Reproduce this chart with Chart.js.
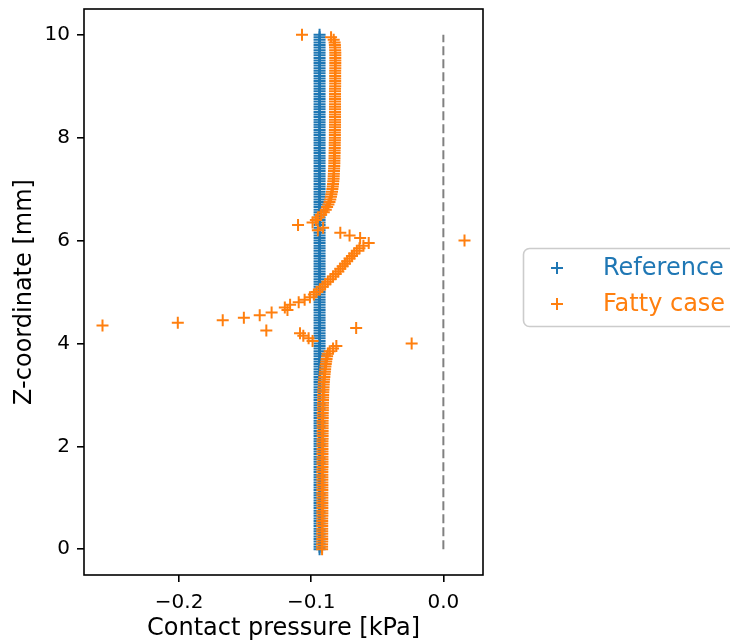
<!DOCTYPE html>
<html>
<head>
<meta charset="utf-8">
<script src="https://cdn.jsdelivr.net/npm/chart.js@4"></script>
<style>
  body { margin: 0; background: #fff; }
  canvas { display: block; }
</style>
</head>
<body>
<canvas id="chart" width="730" height="643"></canvas>
<script>
// z-coordinates of the nodes [mm]
const zCoords = [
  0, 0.05, 0.1, 0.15, 0.2, 0.25, 0.3, 0.35, 0.4, 0.45,
  0.5, 0.55, 0.6, 0.65, 0.7, 0.75, 0.8, 0.85, 0.9, 0.95,
  1, 1.05, 1.1, 1.15, 1.2, 1.25, 1.3, 1.35, 1.4, 1.45,
  1.5, 1.55, 1.6, 1.65, 1.7, 1.75, 1.8, 1.85, 1.9, 1.95,
  2, 2.05, 2.1, 2.15, 2.2, 2.25, 2.3, 2.35, 2.4, 2.45,
  2.5, 2.55, 2.6, 2.65, 2.7, 2.75, 2.8, 2.85, 2.9, 2.95,
  3, 3.05, 3.1, 3.15, 3.2, 3.25, 3.3, 3.35, 3.4, 3.45,
  3.5, 3.55, 3.6, 3.65, 3.7, 3.75, 3.8, 3.85, 3.9, 3.95,
  4, 4.05, 4.1, 4.15, 4.2, 4.25, 4.3, 4.35, 4.4, 4.45,
  4.5, 4.55, 4.6, 4.65, 4.7, 4.75, 4.8, 4.85, 4.9, 4.95,
  5, 5.05, 5.1, 5.15, 5.2, 5.25, 5.3, 5.35, 5.4, 5.45,
  5.5, 5.55, 5.6, 5.65, 5.7, 5.75, 5.8, 5.85, 5.9, 5.95,
  6, 6.05, 6.1, 6.15, 6.2, 6.25, 6.3, 6.35, 6.4, 6.45,
  6.5, 6.55, 6.6, 6.65, 6.7, 6.75, 6.8, 6.85, 6.9, 6.95,
  7, 7.05, 7.1, 7.15, 7.2, 7.25, 7.3, 7.35, 7.4, 7.45,
  7.5, 7.55, 7.6, 7.65, 7.7, 7.75, 7.8, 7.85, 7.9, 7.95,
  8, 8.05, 8.1, 8.15, 8.2, 8.25, 8.3, 8.35, 8.4, 8.45,
  8.5, 8.55, 8.6, 8.65, 8.7, 8.75, 8.8, 8.85, 8.9, 8.95,
  9, 9.05, 9.1, 9.15, 9.2, 9.25, 9.3, 9.35, 9.4, 9.45,
  9.5, 9.55, 9.6, 9.65, 9.7, 9.75, 9.8, 9.85, 9.9, 9.95,
  10
];

// contact pressure, reference case [kPa]
const referencePressure = [
  -0.0937, -0.0937, -0.0937, -0.0937, -0.0937, -0.0937, -0.0937, -0.0937, -0.0937, -0.0937,
  -0.0937, -0.0937, -0.0937, -0.0937, -0.0937, -0.0937, -0.0937, -0.0937, -0.0937, -0.0937,
  -0.0937, -0.0937, -0.0937, -0.0937, -0.0937, -0.0937, -0.0937, -0.0937, -0.0937, -0.0937,
  -0.0937, -0.0937, -0.0937, -0.0937, -0.0937, -0.0937, -0.0937, -0.0937, -0.0937, -0.0937,
  -0.0937, -0.0937, -0.0937, -0.0937, -0.0937, -0.0937, -0.0937, -0.0937, -0.0937, -0.0937,
  -0.0937, -0.0937, -0.0937, -0.0937, -0.0937, -0.0937, -0.0937, -0.0937, -0.0937, -0.0937,
  -0.0937, -0.0937, -0.0937, -0.0937, -0.0937, -0.0937, -0.0937, -0.0937, -0.0937, -0.0937,
  -0.0937, -0.0937, -0.0937, -0.0937, -0.0937, -0.0937, -0.0937, -0.0937, -0.0937, -0.0937,
  -0.0937, -0.0937, -0.0937, -0.0937, -0.0937, -0.0937, -0.0937, -0.0937, -0.0937, -0.0937,
  -0.0937, -0.0937, -0.0937, -0.0937, -0.0937, -0.0937, -0.0937, -0.0937, -0.0937, -0.0937,
  -0.0937, -0.0937, -0.0937, -0.0937, -0.0937, -0.0937, -0.0937, -0.0937, -0.0937, -0.0937,
  -0.0937, -0.0937, -0.0937, -0.0937, -0.0937, -0.0937, -0.0937, -0.0937, -0.0937, -0.0937,
  -0.0937, -0.0937, -0.0937, -0.0937, -0.0937, -0.0937, -0.0937, -0.0937, -0.0937, -0.0937,
  -0.0937, -0.0937, -0.0937, -0.0937, -0.0937, -0.0937, -0.0937, -0.0937, -0.0937, -0.0937,
  -0.0937, -0.0937, -0.0937, -0.0937, -0.0937, -0.0937, -0.0937, -0.0937, -0.0937, -0.0937,
  -0.0937, -0.0937, -0.0937, -0.0937, -0.0937, -0.0937, -0.0937, -0.0937, -0.0937, -0.0937,
  -0.0937, -0.0937, -0.0937, -0.0937, -0.0937, -0.0937, -0.0937, -0.0937, -0.0937, -0.0937,
  -0.0937, -0.0937, -0.0937, -0.0937, -0.0937, -0.0937, -0.0937, -0.0937, -0.0937, -0.0937,
  -0.0937, -0.0937, -0.0937, -0.0937, -0.0937, -0.0937, -0.0937, -0.0937, -0.0937, -0.0937,
  -0.0937, -0.0937, -0.0937, -0.0937, -0.0937, -0.0937, -0.0937, -0.0937, -0.0937, -0.0937,
  -0.0937
];

// contact pressure, fatty case [kPa]
const fattyPressure = [
  -0.0918, -0.0918, -0.0918, -0.0917, -0.0917, -0.0917, -0.0917, -0.0917, -0.0917, -0.0917,
  -0.0917, -0.0917, -0.0917, -0.0916, -0.0916, -0.0916, -0.0916, -0.0916, -0.0916, -0.0916,
  -0.0916, -0.0916, -0.0916, -0.0916, -0.0916, -0.0916, -0.0916, -0.0916, -0.0916, -0.0916,
  -0.0916, -0.0916, -0.0915, -0.0915, -0.0915, -0.0915, -0.0915, -0.0915, -0.0915, -0.0915,
  -0.0915, -0.0915, -0.0915, -0.0914, -0.0914, -0.0914, -0.0914, -0.0914, -0.0914, -0.0914,
  -0.0914, -0.0913, -0.0913, -0.0913, -0.0912, -0.0912, -0.0912, -0.0911, -0.0911, -0.0910,
  -0.0910, -0.0909, -0.0908, -0.0907, -0.0906, -0.0905, -0.0903, -0.0901, -0.0899, -0.0897,
  -0.0895, -0.0893, -0.0890, -0.0887, -0.0884, -0.0880, -0.0875, -0.0860, -0.0835, -0.0810,
  -0.0240, -0.0990, -0.1020, -0.1060, -0.1085, -0.1340, -0.0660, -0.2580, -0.2010, -0.1670,
  -0.1510, -0.1390, -0.1300, -0.1180, -0.1200, -0.1160, -0.1095, -0.1050, -0.1010, -0.0980,
  -0.0960, -0.0935, -0.0915, -0.0895, -0.0875, -0.0855, -0.0835, -0.0815, -0.0795, -0.0780,
  -0.0762, -0.0745, -0.0728, -0.0710, -0.0692, -0.0675, -0.0655, -0.0635, -0.0605, -0.0565,
  0.0160, -0.0630, -0.0710, -0.0780, -0.0950, -0.0910, -0.1100, -0.0990, -0.0965, -0.0950,
  -0.0925, -0.0905, -0.0890, -0.0880, -0.0870, -0.0862, -0.0856, -0.0851, -0.0847, -0.0843,
  -0.0840, -0.0837, -0.0835, -0.0833, -0.0831, -0.0830, -0.0829, -0.0828, -0.0827, -0.0826,
  -0.0825, -0.0825, -0.0824, -0.0824, -0.0823, -0.0823, -0.0822, -0.0822, -0.0822, -0.0821,
  -0.0821, -0.0821, -0.0821, -0.0821, -0.0820, -0.0820, -0.0820, -0.0820, -0.0820, -0.0820,
  -0.0820, -0.0820, -0.0820, -0.0820, -0.0820, -0.0820, -0.0820, -0.0820, -0.0820, -0.0820,
  -0.0819, -0.0819, -0.0819, -0.0819, -0.0819, -0.0819, -0.0819, -0.0818, -0.0818, -0.0818,
  -0.0818, -0.0818, -0.0818, -0.0818, -0.0819, -0.0820, -0.0821, -0.0823, -0.0830, -0.0850,
  -0.1070
];

// zero-pressure guide line
const zeroLineX = [0, 0];
const zeroLineZ = [0, 10];

const xTicks = [-0.2, -0.1, 0.0];
const yTicks = [0, 2, 4, 6, 8, 10];

const BLUE = '#1f77b4';
const ORANGE = '#ff7f0e';

Chart.defaults.font.family = "'DejaVu Sans', sans-serif";
Chart.defaults.color = '#000';

const toPoints = (xs, zs) => xs.map((x, i) => ({ x: x, y: zs[i] }));

// box around the axes (all four spines)
const framePlugin = {
  id: 'frame',
  afterDatasetsDraw(chart) {
    const a = chart.chartArea;
    const ctx = chart.ctx;
    ctx.save();
    ctx.strokeStyle = '#000';
    ctx.lineWidth = 1.6;
    ctx.strokeRect(a.left, a.top, a.right - a.left, a.bottom - a.top);
    ctx.restore();
  }
};

// legend placed outside the axes on the right, like bbox_to_anchor
const outsideLegend = {
  id: 'outsideLegend',
  afterDraw(chart) {
    const ctx = chart.ctx;
    ctx.save();
    ctx.beginPath();
    ctx.roundRect(523.5, 248.5, 260, 78, 6);
    ctx.fillStyle = 'rgba(255,255,255,0.8)';
    ctx.fill();
    ctx.strokeStyle = '#cccccc';
    ctx.lineWidth = 1.6;
    ctx.stroke();

    const rows = [268, 304];
    chart.data.datasets.slice(0, 2).forEach((ds, i) => {
      const cy = rows[i];
      ctx.strokeStyle = ds.borderColor;
      ctx.lineWidth = 2;
      ctx.beginPath();
      ctx.moveTo(551, cy); ctx.lineTo(563, cy);
      ctx.moveTo(557, cy - 6); ctx.lineTo(557, cy + 6);
      ctx.stroke();
      ctx.fillStyle = ds.borderColor;
      ctx.font = "24px 'DejaVu Sans'";
      ctx.textBaseline = 'middle';
      ctx.fillText(ds.label, 603, cy + 1);
    });
    ctx.restore();
  }
};

new Chart(document.getElementById('chart'), {
  type: 'scatter',
  data: {
    datasets: [
      {
        label: 'Reference',
        data: toPoints(referencePressure, zCoords),
        pointStyle: 'cross',
        pointRadius: 6,
        borderWidth: 2,
        borderColor: BLUE,
        backgroundColor: BLUE,
        order: 2
      },
      {
        label: 'Fatty case',
        data: toPoints(fattyPressure, zCoords),
        pointStyle: 'cross',
        pointRadius: 6,
        borderWidth: 2,
        borderColor: ORANGE,
        backgroundColor: ORANGE,
        order: 1
      },
      {
        label: 'zero',
        data: toPoints(zeroLineX, zeroLineZ),
        showLine: true,
        pointRadius: 0,
        borderColor: '#808080',
        borderWidth: 2,
        borderDash: [9, 4],
        order: 3
      }
    ]
  },
  options: {
    responsive: false,
    animation: false,
    layout: { padding: { top: 9, right: 247, left: 0, bottom: 0 } },
    plugins: {
      legend: { display: false },
      tooltip: { enabled: false }
    },
    scales: {
      x: {
        type: 'linear',
        min: -0.272,
        max: 0.030,
        afterBuildTicks: s => { s.ticks = xTicks.map(v => ({ value: v })); },
        afterFit: s => { s.height = 68; },
        border: { display: false },
        grid: { drawOnChartArea: false, drawTicks: true, tickLength: 7, color: '#000', lineWidth: 1.6 },
        ticks: {
          font: { size: 20 },
          padding: 9,
          maxRotation: 0,
          callback: v => v.toFixed(1).replace('-', '\u2212')
        },
        title: { display: true, text: 'Contact pressure [kPa]', font: { size: 24 }, padding: { top: 0, bottom: 0 } }
      },
      y: {
        type: 'linear',
        min: -0.5,
        max: 10.5,
        afterBuildTicks: s => { s.ticks = yTicks.map(v => ({ value: v })); },
        afterFit: s => { s.width = 84; s.paddingTop = 0; s.paddingBottom = 0; },
        border: { display: false },
        grid: { drawOnChartArea: false, drawTicks: true, tickLength: 7, color: '#000', lineWidth: 1.6 },
        ticks: {
          font: { size: 20 },
          padding: 7,
          callback: v => String(v)
        },
        title: { display: true, text: 'Z-coordinate [mm]', font: { size: 24 }, padding: { top: 10, bottom: 0 } }
      }
    }
  },
  plugins: [framePlugin, outsideLegend]
});
</script>
</body>
</html>
